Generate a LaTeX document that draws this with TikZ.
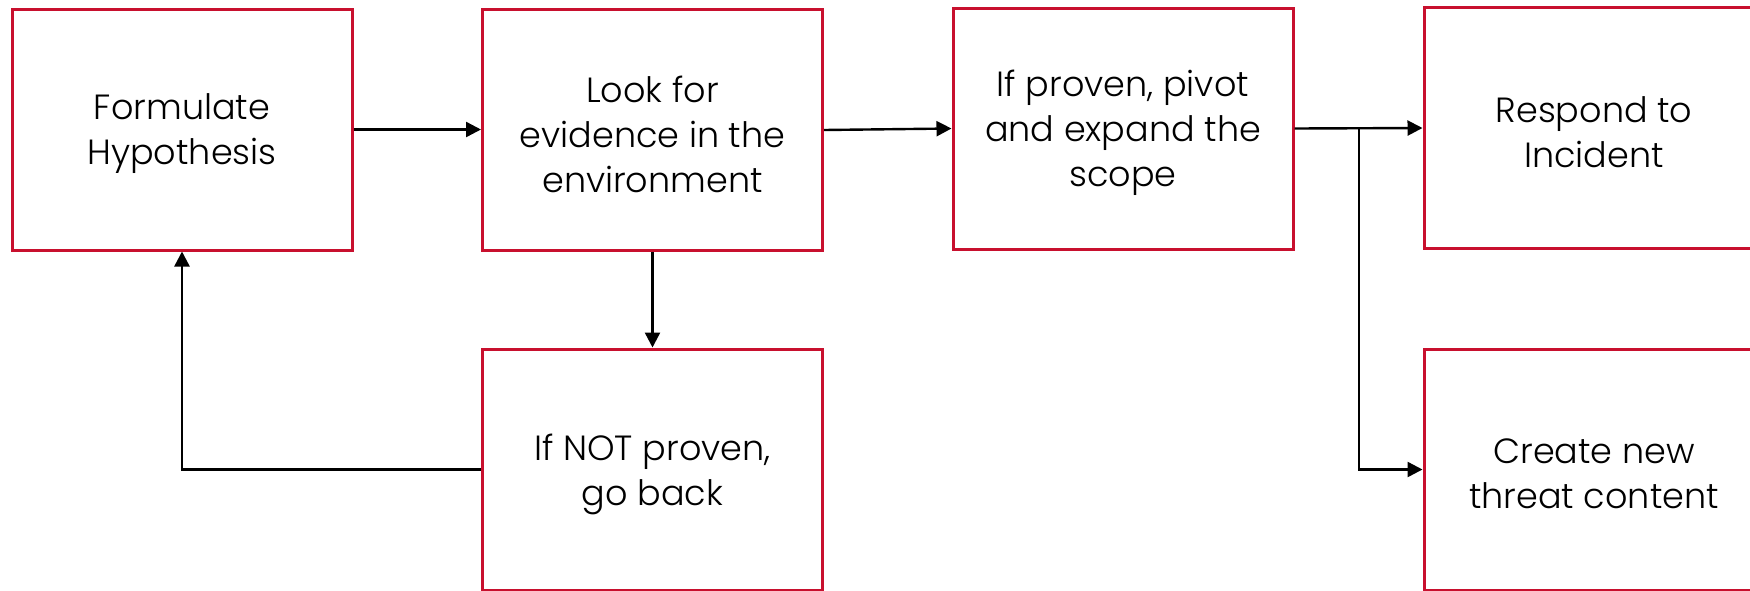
\documentclass[tikz,border=0pt]{standalone}
\usepackage{fontspec}
\setmainfont{Poppins}[UprightFont=* Light]
\usetikzlibrary{arrows.meta}
\definecolor{boxred}{HTML}{C8102E}
\tikzset{
  stepbox/.style={draw=boxred, line width=1.5pt, fill=white, rectangle,
    minimum width=170pt, minimum height=120.5pt, inner sep=0pt},
  steptext/.style={align=center, yshift=-2.25pt,
    font=\fontsize{17.5}{22.5}\selectfont},
  flow/.style={draw=black, line width=1.2pt, -{Triangle[length=7.5pt,width=7.5pt]}}
}
\begin{document}
\begin{tikzpicture}[x=0.5pt,y=-0.5pt]
  \useasboundingbox (0,0) rectangle (1750,590);
  \clip (0,0) rectangle (1750,590);
  \fill[white] (0,0) rectangle (1750,590);

  \node[stepbox, label={[steptext]center:Formulate\\Hypothesis}] (b1) at (182,129.5) {};
  \node[stepbox, label={[steptext]center:Look for\\evidence in the\\environment}] (b2) at (652.5,130) {};
  \node[stepbox, label={[steptext]center:If proven, pivot\\and expand the\\scope}] (b3) at (1123,128.5) {};
  \node[stepbox, label={[steptext]center:Respond to\\Incident}] (b4) at (1594,128) {};
  \node[stepbox, label={[steptext]center:If NOT proven,\\go back}] (b5) at (652.5,469.5) {};
  \node[stepbox, label={[steptext]center:Create new\\threat content}] (b6) at (1594,469.5) {};

  \coordinate (br) at (1359,128.5);

  \draw[flow] (b1.east) -- (b2.west |- b1.east);
  \draw[flow] (b2.east) -- (b3.west);
  \draw[flow] (b2.south) -- (b5.north);
  \draw[flow] (b5.west) -| (b1.south);
  \draw[flow] (b3.east) -- (b4.west);
  \draw[flow] (br) |- (b6.west);
\end{tikzpicture}
\end{document}
